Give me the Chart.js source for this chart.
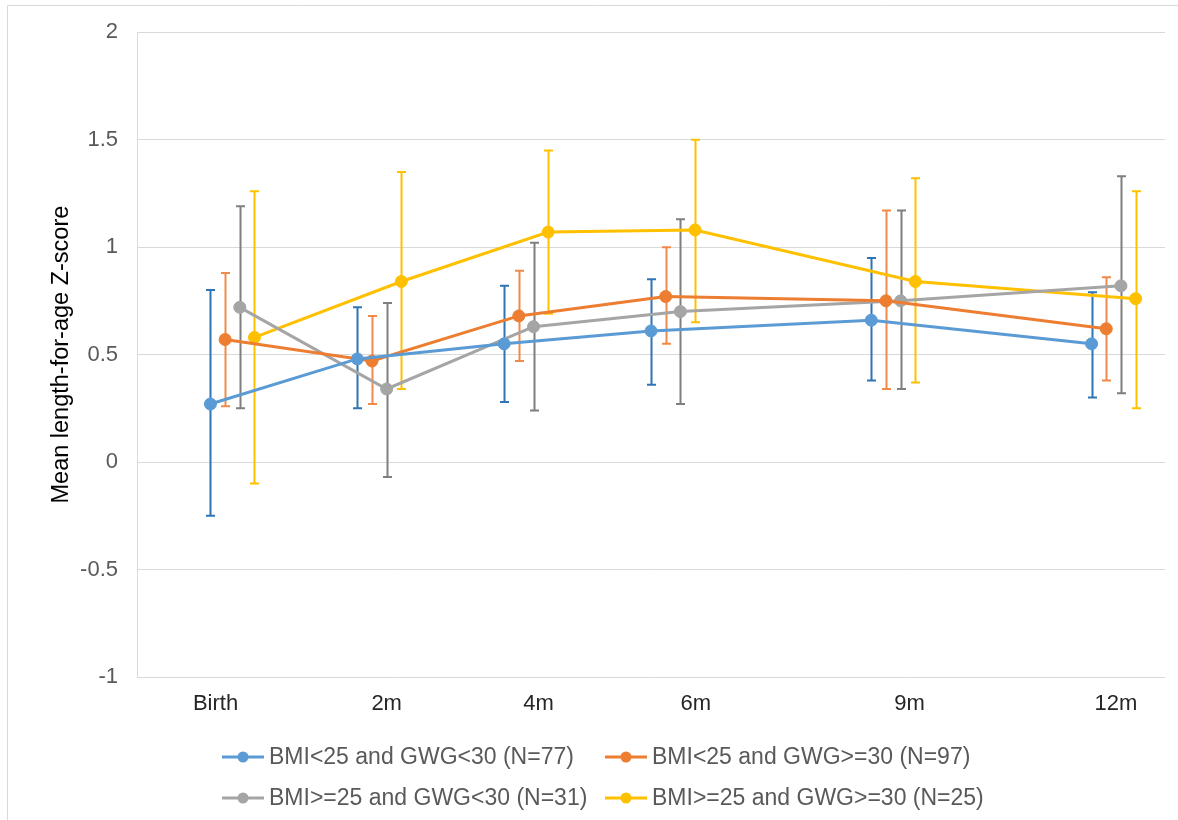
<!DOCTYPE html>
<html>
<head>
<meta charset="utf-8">
<script src="https://cdn.jsdelivr.net/npm/chart.js@4.4.1/dist/chart.umd.min.js"></script>
<style>
  html, body { margin: 0; padding: 0; background: #fff; }
  #wrap { width: 1178px; height: 820px; position: relative; }
</style>
</head>
<body>
<div id="wrap"><canvas id="chart"></canvas></div>
<script>
// x values (months) and the axis labels
const months = [0, 2, 4, 6, 9, 12];
const tickLabels = ['Birth', '2m', '4m', '6m', '9m', '12m'];
const tickPositions = [-0.23, 2.1, 4.17, 6.31, 9.22, 12.03];
const yTicks = [-1, -0.5, 0, 0.5, 1, 1.5, 2];

const seriesNames = [
  'BMI<25 and GWG<30 (N=77)',
  'BMI<25 and GWG>=30 (N=97)',
  'BMI>=25 and GWG<30 (N=31)',
  'BMI>=25 and GWG>=30 (N=25)'
];

// mean Z-score with lower / upper error bar ends
const meanA = [0.27, 0.48, 0.55, 0.61, 0.66, 0.55];
const lowA  = [-0.25, 0.25, 0.28, 0.36, 0.38, 0.30];
const highA = [0.80, 0.72, 0.82, 0.85, 0.95, 0.79];

const meanB = [0.57, 0.47, 0.68, 0.77, 0.75, 0.62];
const lowB  = [0.26, 0.27, 0.47, 0.55, 0.34, 0.38];
const highB = [0.88, 0.68, 0.89, 1.00, 1.17, 0.86];

const meanC = [0.72, 0.34, 0.63, 0.70, 0.75, 0.82];
const lowC  = [0.25, -0.07, 0.24, 0.27, 0.34, 0.32];
const highC = [1.19, 0.74, 1.02, 1.13, 1.17, 1.33];

const meanD = [0.58, 0.84, 1.07, 1.08, 0.84, 0.76];
const lowD  = [-0.10, 0.34, 0.69, 0.65, 0.37, 0.25];
const highD = [1.26, 1.35, 1.45, 1.50, 1.32, 1.26];

// small horizontal shift so the groups don't overlap
const shifts = [-0.3, -0.1, 0.1, 0.3];
const lineColors = ['#5B9BD5', '#ED7D31', '#A5A5A5', '#FFC000'];
const barColors = ['#2E75B6', '#F0894A', '#7F7F7F', '#FFC000'];

const means = [meanA, meanB, meanC, meanD];
const lows = [lowA, lowB, lowC, lowD];
const highs = [highA, highB, highC, highD];

const FONT = '"Liberation Sans", Arial, sans-serif';

const datasets = seriesNames.map((name, s) => ({
  label: name,
  data: means[s].map((v, i) => ({ x: months[i] + shifts[s], y: v })),
  low: lows[s],
  high: highs[s],
  barColor: barColors[s],
  borderColor: lineColors[s],
  backgroundColor: lineColors[s],
  borderWidth: 3,
  pointRadius: 6,
  pointHoverRadius: 6,
  pointBorderWidth: 1,
  tension: 0
}));

const frame = {
  id: 'frame',
  beforeDraw(chart) {
    const ctx = chart.ctx;
    ctx.save();
    ctx.fillStyle = '#fff';
    ctx.fillRect(0, 0, chart.width, chart.height);
    ctx.strokeStyle = '#D9D9D9';
    ctx.lineWidth = 1;
    ctx.beginPath();
    ctx.moveTo(7.5, chart.height);
    ctx.lineTo(7.5, 5.5);
    ctx.lineTo(chart.width, 5.5);
    ctx.stroke();
    ctx.restore();
  }
};

const errorBars = {
  id: 'errorBars',
  beforeDatasetsDraw(chart) {
    const ctx = chart.ctx;
    const xs = chart.scales.x, ys = chart.scales.y;
    ctx.save();
    ctx.lineWidth = 2;
    chart.data.datasets.forEach(ds => {
      ctx.strokeStyle = ds.barColor;
      ds.data.forEach((p, i) => {
        const x = Math.round(xs.getPixelForValue(p.x)) + 0.5;
        const y1 = ys.getPixelForValue(ds.low[i]);
        const y2 = ys.getPixelForValue(ds.high[i]);
        ctx.beginPath();
        ctx.moveTo(x, y1); ctx.lineTo(x, y2);
        ctx.moveTo(x - 4.5, y1); ctx.lineTo(x + 4.5, y1);
        ctx.moveTo(x - 4.5, y2); ctx.lineTo(x + 4.5, y2);
        ctx.stroke();
      });
    });
    ctx.restore();
  }
};

const legendBox = {
  id: 'legendBox',
  afterDraw(chart) {
    const ctx = chart.ctx;
    const cols = [222, 605];
    const rows = [757, 798];
    ctx.save();
    ctx.font = '23px ' + FONT;
    ctx.textBaseline = 'middle';
    chart.data.datasets.forEach((ds, i) => {
      const x = cols[i % 2], y = rows[Math.floor(i / 2)];
      ctx.strokeStyle = ds.borderColor;
      ctx.fillStyle = ds.borderColor;
      ctx.lineWidth = 3;
      ctx.beginPath();
      ctx.moveTo(x, y); ctx.lineTo(x + 42, y);
      ctx.stroke();
      ctx.beginPath();
      ctx.arc(x + 21, y, 5.5, 0, Math.PI * 2);
      ctx.fill();
      ctx.fillStyle = '#595959';
      ctx.fillText(ds.label, x + 47, y + 1);
    });
    ctx.restore();
  }
};

new Chart(document.getElementById('chart'), {
  type: 'line',
  data: { datasets },
  plugins: [frame, errorBars, legendBox],
  options: {
    responsive: true,
    maintainAspectRatio: false,
    animation: false,
    layout: { padding: { left: 0, right: 13, top: 30, bottom: 93 } },
    plugins: {
      legend: { display: false },
      tooltip: { enabled: false }
    },
    scales: {
      x: {
        type: 'linear',
        min: -1.3,
        max: 12.7,
        afterBuildTicks: scale => {
          scale.ticks = tickPositions.map(v => ({ value: v }));
        },
        afterFit: scale => { scale.height = 50; },
        grid: { display: false, drawTicks: false },
        border: { display: false },
        ticks: {
          autoSkip: false,
          maxRotation: 0,
          padding: 14,
          color: '#262626',
          font: { family: FONT, size: 22 },
          callback: (v, i) => tickLabels[i]
        }
      },
      y: {
        min: -1,
        max: 2,
        afterBuildTicks: scale => {
          scale.ticks = yTicks.map(v => ({ value: v }));
        },
        afterFit: scale => { scale.width = 137; },
        grid: { color: '#D9D9D9', lineWidth: 1, drawTicks: false },
        border: { display: true, color: '#D9D9D9', width: 1 },
        ticks: {
          padding: 19,
          color: '#595959',
          font: { family: FONT, size: 22 },
          callback: v => String(v)
        },
        title: {
          display: true,
          text: 'Mean length-for-age Z-score',
          color: '#000',
          font: { family: FONT, size: 23.5 },
          padding: { top: 47, bottom: 0 }
        }
      }
    }
  }
});
</script>
</body>
</html>
